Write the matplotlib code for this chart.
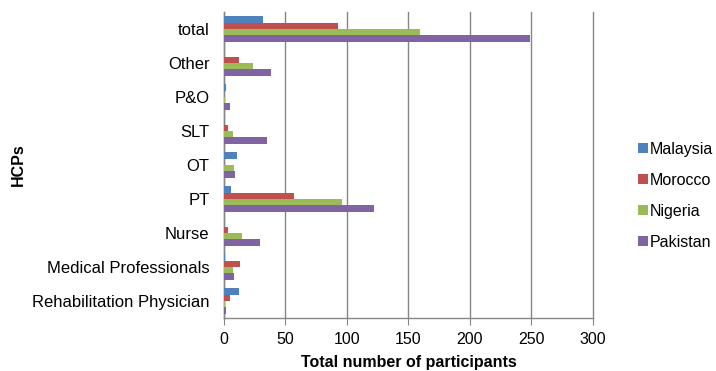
import matplotlib.pyplot as plt
import numpy as np

plt.rcParams["font.family"] = ["Liberation Sans", "DejaVu Sans"]

categories = ["Rehabilitation Physician", "Medical Professionals", "Nurse", "PT",
              "OT", "SLT", "P&O", "Other", "total"]
countries = ["Malaysia", "Morocco", "Nigeria", "Pakistan"]
malaysia = [12, 1, 0, 6, 11, 0, 2, 0, 32]
morocco = [5, 13, 3, 57, 0, 3, 0, 12, 93]
nigeria = [1, 7, 15, 96, 8, 7, 1, 24, 159]
pakistan = [2, 8, 29, 122, 9, 35, 5, 38, 249]
colors = ["#4F81BD", "#C0504D", "#9BBB59", "#8064A2"]

fig = plt.figure(figsize=(7.16, 3.71), dpi=100)
ax = fig.add_axes([0.3128, 0.1429, 0.5154, 0.8248])

y = np.arange(len(categories))
h = 0.185
series = [malaysia, morocco, nigeria, pakistan]
for i, (name, vals, col) in enumerate(zip(countries, series, colors)):
    # first series sits on top of each group
    offset = (1.5 - i) * h
    ax.barh(y + offset, vals, height=h, color=col, label=name, zorder=3)

ax.set_xlim(0, 300)
ax.set_ylim(-0.5, len(categories) - 0.5)
ax.set_xticks(np.arange(0, 301, 50))
ax.set_yticks(y)
ax.set_yticklabels(categories)
ax.grid(axis="x", color="#868686", linewidth=1.0, zorder=0)
for gl in ax.get_xgridlines():
    gl.set_clip_on(False)
ax.set_axisbelow(True)

for side in ["top", "right"]:
    ax.spines[side].set_visible(False)
for side in ["left", "bottom"]:
    ax.spines[side].set_color("#868686")
    ax.spines[side].set_linewidth(1.0)

ax.tick_params(axis="x", direction="out", length=5, color="#868686",
               labelsize=11.5, pad=5)
ax.tick_params(axis="y", length=0, labelsize=12, pad=10.5)

ax.set_xlabel("Total number of participants", fontsize=11.5, fontweight="bold",
              labelpad=6)
ax.set_ylabel("HCPs", fontsize=11.5, fontweight="bold")
ax.yaxis.set_label_coords(-0.536, 0.5)

leg = ax.legend(loc="center left", bbox_to_anchor=(1.105, 0.40), frameon=False,
                fontsize=11.5, handlelength=0.6, handleheight=0.6,
                handletextpad=0.1, labelspacing=1.0, borderaxespad=0)

fig.savefig("out.png", dpi=100)
